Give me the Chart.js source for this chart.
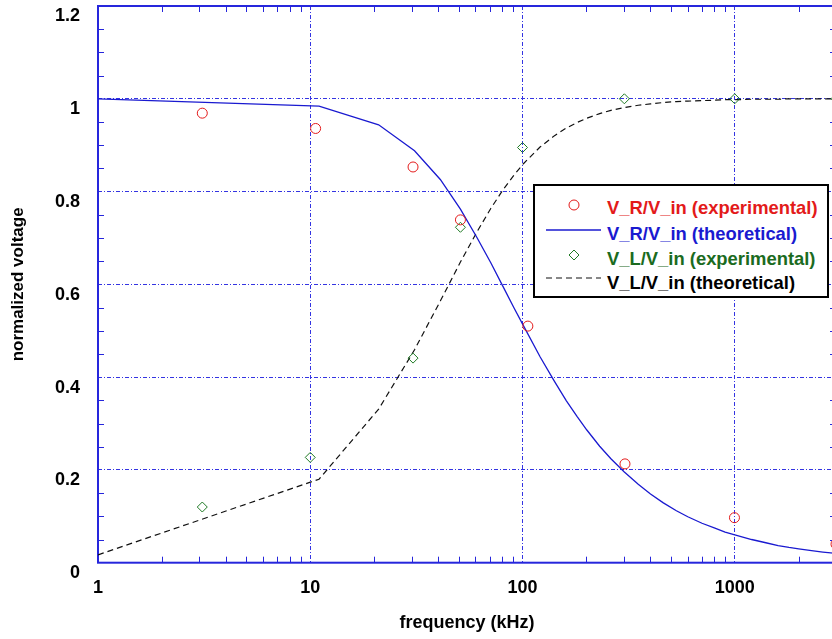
<!DOCTYPE html>
<html>
<head>
<meta charset="utf-8">
<script src="https://cdn.jsdelivr.net/npm/chart.js@4.4.0/dist/chart.umd.min.js"></script>
<style>
  html, body { margin: 0; padding: 0; background: #fff; overflow: hidden; }
  #wrap { position: relative; width: 832px; height: 639px; overflow: hidden; }
  #chart { position: absolute; left: 0; top: 0; }
  #legend {
    position: absolute; left: 533px; top: 184px; width: 292px; height: 110px;
    border: 2px solid #000; background: #fff;
    font: bold 18.4px "Liberation Sans", Arial, sans-serif;
  }
  .row { position: absolute; left: 0; height: 24px; width: 290px; }
  .row svg { position: absolute; left: 0; top: 0; }
  .row span { position: absolute; left: 72px; top: 1px; line-height: 24px; white-space: nowrap; }
</style>
</head>
<body>
<div id="wrap">
  <canvas id="chart" width="846" height="639"></canvas>
  <div id="legend">
    <div class="row" style="top:9px">
      <svg width="66" height="24"><circle cx="39" cy="10" r="5" fill="none" stroke="#e31a1a" stroke-width="1"/></svg>
      <span style="color:#e31a1a">V_R/V_in (experimental)</span>
    </div>
    <div class="row" style="top:35px">
      <svg width="66" height="24"><line x1="11" y1="9" x2="66" y2="9" stroke="#1a1ad0" stroke-width="1.3"/></svg>
      <span style="color:#1a1ad0">V_R/V_in (theoretical)</span>
    </div>
    <div class="row" style="top:60px">
      <svg width="66" height="24"><path d="M39 4 L44 9 L39 14 L34 9 Z" fill="none" stroke="#1f7a24" stroke-width="1"/></svg>
      <span style="color:#1b6b1e">V_L/V_in (experimental)</span>
    </div>
    <div class="row" style="top:84px">
      <svg width="66" height="24"><line x1="11" y1="8" x2="66" y2="8" stroke="#111" stroke-width="1.2" stroke-dasharray="6,4"/></svg>
      <span style="color:#000">V_L/V_in (theoretical)</span>
    </div>
  </div>
</div>
<script>
// Experimental points
const rExpFreq = [3.1, 10.6, 30.5, 51, 106, 304, 997, 3000];
const rExpVal = [0.969, 0.936, 0.853, 0.739, 0.510, 0.213, 0.097, 0.040];
const lExpFreq = [3.1, 10, 30.5, 51, 100, 302, 1000, 3000];
const lExpVal = [0.120, 0.227, 0.441, 0.723, 0.895, 1.0, 1.0, 1.0];

// Theoretical curves
const theoFreq = [1, 11, 21, 31, 41, 51, 61, 71, 81, 91, 101, 121, 141, 161, 181, 201, 231, 261,
  301, 351, 401, 461, 531, 601, 701, 801, 901, 1001, 1201, 1401, 1601, 1801, 2001, 2301, 2601, 3001];
const rTheo = [1.000, 0.984, 0.944, 0.888, 0.826, 0.762, 0.701, 0.646, 0.595, 0.550, 0.511, 0.444,
  0.392, 0.349, 0.315, 0.286, 0.251, 0.224, 0.196, 0.169, 0.148, 0.129, 0.112, 0.099, 0.085, 0.075,
  0.066, 0.060, 0.050, 0.043, 0.037, 0.033, 0.030, 0.026, 0.023, 0.020];
const lTheo = [0.017, 0.180, 0.331, 0.459, 0.564, 0.648, 0.713, 0.764, 0.804, 0.835, 0.860, 0.896,
  0.920, 0.937, 0.949, 0.958, 0.968, 0.975, 0.981, 0.986, 0.989, 0.992, 0.994, 0.995, 0.996, 0.997,
  0.998, 0.998, 0.999, 0.999, 0.999, 1.000, 1.000, 1.000, 1.000, 1.000];

// Ticks
const xTickValues = [1, 10, 100, 1000];
const xTickLabels = ['1', '10', '100', '1000'];
const yTickValues = [0, 0.2, 0.4, 0.6, 0.8, 1.0, 1.2];
const yTickLabels = ['0', '0.2', '0.4', '0.6', '0.8', '1', '1.2'];

const axisBlue = '#2626dc';
const gridBlue = '#3434e2';
const font = { family: '"Liberation Sans", Arial, sans-serif', weight: 'bold', size: 18 };
const xTitleFont = { family: '"Liberation Sans", Arial, sans-serif', weight: 'bold', size: 18 };
const yTitleFont = { family: '"Liberation Sans", Arial, sans-serif', weight: 'bold', size: 17 };

const toXY = (xs, ys) => xs.map((x, i) => ({ x: x, y: ys[i] }));

// Frame + inward minor ticks
const framePlugin = {
  id: 'frame',
  beforeDatasetsDraw(chart) {
    const { ctx, chartArea: a, scales: { x, y } } = chart;
    ctx.save();
    ctx.strokeStyle = axisBlue;
    ctx.lineWidth = 1;
    ctx.beginPath();
    for (let k = 1; k < 24; k++) {
      if (k % 4 === 0) continue;
      const py = Math.round(y.getPixelForValue(k * 0.05)) + 0.5;
      ctx.moveTo(a.left, py); ctx.lineTo(a.left + 6, py);
      ctx.moveTo(a.right, py); ctx.lineTo(a.right - 6, py);
    }
    [1, 10, 100, 1000].forEach(d => {
      for (let m = 2; m <= 9; m++) {
        const v = d * m;
        if (v > 3000) break;
        const px = Math.round(x.getPixelForValue(v)) + 0.5;
        ctx.moveTo(px, a.bottom); ctx.lineTo(px, a.bottom - 6);
        ctx.moveTo(px, a.top); ctx.lineTo(px, a.top + 6);
      }
    });
    ctx.stroke();
    ctx.lineWidth = 2;
    ctx.strokeRect(a.left, a.top, a.right - a.left, a.bottom - a.top);
    ctx.restore();
  }
};

new Chart(document.getElementById('chart'), {
  type: 'line',
  data: {
    datasets: [
      {
        label: 'V_R/V_in (experimental)',
        data: toXY(rExpFreq, rExpVal),
        showLine: false,
        pointStyle: 'circle',
        pointRadius: 5,
        pointBorderWidth: 1,
        pointBorderColor: '#e31a1a',
        pointBackgroundColor: 'rgba(0,0,0,0)',
        clip: false,
        order: 1
      },
      {
        label: 'V_R/V_in (theoretical)',
        data: toXY(theoFreq, rTheo),
        borderColor: '#1a1ad0',
        borderWidth: 1.3,
        pointRadius: 0,
        tension: 0,
        order: 3
      },
      {
        label: 'V_L/V_in (experimental)',
        data: toXY(lExpFreq, lExpVal),
        showLine: false,
        pointStyle: 'rectRot',
        pointRadius: 5,
        pointBorderWidth: 1,
        pointBorderColor: '#1f7a24',
        pointBackgroundColor: 'rgba(0,0,0,0)',
        clip: false,
        order: 2
      },
      {
        label: 'V_L/V_in (theoretical)',
        data: toXY(theoFreq, lTheo),
        borderColor: '#111',
        borderWidth: 1.2,
        borderDash: [6, 4],
        pointRadius: 0,
        tension: 0,
        order: 4
      }
    ]
  },
  options: {
    responsive: false,
    animation: false,
    layout: { padding: { top: 6, right: 10, left: 0, bottom: 0 } },
    plugins: { legend: { display: false }, tooltip: { enabled: false } },
    scales: {
      x: {
        type: 'logarithmic',
        min: 1,
        max: 3000,
        afterBuildTicks: s => { s.ticks = xTickValues.map(v => ({ value: v })); },
        afterFit: s => { s.height = 76.3; s.paddingLeft = 0; s.paddingRight = 0; },
        ticks: {
          callback: (v, i) => xTickLabels[i],
          font: font, color: '#000', padding: 15, maxRotation: 0, autoSkip: false
        },
        grid: { color: gridBlue, lineWidth: 1, drawTicks: false },
        border: { display: false, dash: [4, 2, 1, 2] },
        title: {
          display: true, text: 'frequency (kHz)', font: xTitleFont, color: '#000',
          padding: { top: 5, bottom: 5 }
        }
      },
      y: {
        min: 0,
        max: 1.2,
        afterBuildTicks: s => { s.ticks = yTickValues.map(v => ({ value: v })); },
        afterFit: s => { s.width = 98; s.paddingTop = 0; s.paddingBottom = 0; },
        ticks: {
          callback: (v, i) => yTickLabels[i],
          font: font, color: '#000', padding: 18, labelOffset: 10.5, autoSkip: false
        },
        grid: { color: gridBlue, lineWidth: 1, drawTicks: false },
        border: { display: false, dash: [4, 2, 1, 2] },
        title: {
          display: true, text: 'normalized voltage', font: yTitleFont, color: '#000',
          padding: { top: 8, bottom: 8 }
        }
      }
    }
  },
  plugins: [framePlugin]
});
</script>
</body>
</html>
